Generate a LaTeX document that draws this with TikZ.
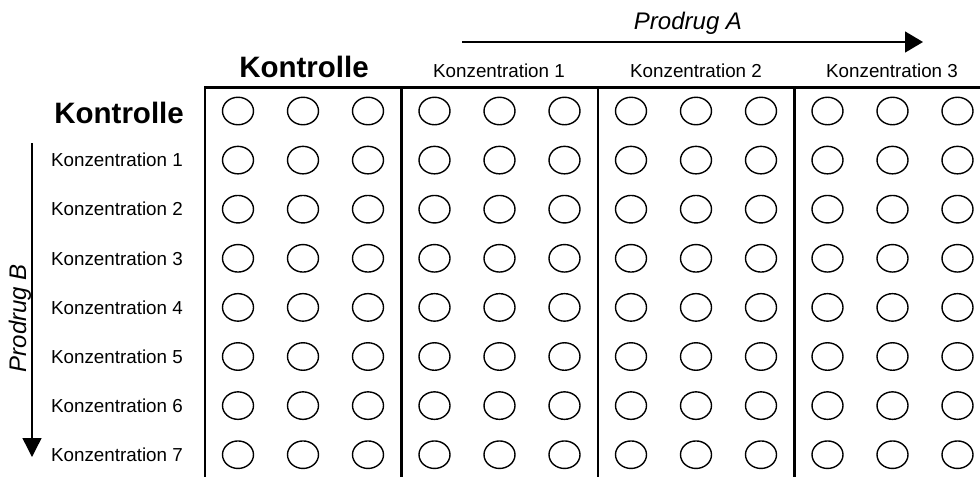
\documentclass[tikz,border=0pt]{standalone}
\usepackage{fontspec}
\setmainfont{Liberation Sans}
\usetikzlibrary{arrows.meta,shapes.geometric}
\begin{document}
\begin{tikzpicture}[x=1pt,y=-1pt,
  well/.style={draw, ellipse, line width=1.4pt, minimum width=31pt, minimum height=27.5pt, inner sep=0pt},
  small/.style={inner sep=0pt, font=\fontsize{18.8}{20}\selectfont},
  big/.style={inner sep=0pt, font=\fontsize{29.5}{32}\selectfont\bfseries},
  axis/.style={inner sep=0pt, font=\fontsize{24}{26}\selectfont\itshape},
  frame/.style={line width=2.7pt},
  arr/.style={line width=1.4pt}]
\useasboundingbox (0,0) rectangle (980,477);
% frame
\coordinate (tr) at (980,87.7);
\coordinate (tl) at (205,87.7);
\coordinate (bl) at (205,477);
\draw[frame] (tr) -- (tl) -- (bl);
\foreach \k/\x in {1/401.5,2/598,3/794.5}{
  \coordinate (s\k t) at (\x,87.7);
  \coordinate (s\k b) at (\x,477);
  \draw[frame] (s\k t) -- (s\k b);
}
% wells
\foreach \r in {0,...,7}{
  \foreach \k in {0,...,3}{
    \foreach \j in {0,1,2}{
      \node[well] (w-\r-\k-\j) at ({205+196.5*\k+33+65*\j},{111+49.1*\r}) {};
    }
  }
}
% column headers
\node[big, anchor=base] (hk) at (304,77) {Kontrolle};
\node[small, anchor=base] (h1) at (499,77) {Konzentration 1};
\node[small, anchor=base] (h2) at (696,77) {Konzentration 2};
\node[small, anchor=base] (h3) at (892,77) {Konzentration 3};
% row headers
\node[big, anchor=east] (rk) at (184,112.5) {Kontrolle};
\foreach \r in {1,...,7}{
  \node[small, anchor=east] (r\r) at (183,{111+49.1*\r}) {Konzentration \r};
}
% Prodrug A
\node[axis, anchor=base] (pa) at (688,29.5) {Prodrug A};
\coordinate (a0) at (462,42);
\coordinate (a1) at (923,42);
\draw[arr, -{Triangle[length=18pt,width=21pt]}] (a0) -- (a1);
% Prodrug B
\node[axis, rotate=90] (pb) at (20,318) {Prodrug B};
\coordinate (b0) at (32,143);
\coordinate (b1) at (32,457);
\draw[arr, -{Triangle[length=19pt,width=19pt]}] (b0) -- (b1);
\end{tikzpicture}
\end{document}
